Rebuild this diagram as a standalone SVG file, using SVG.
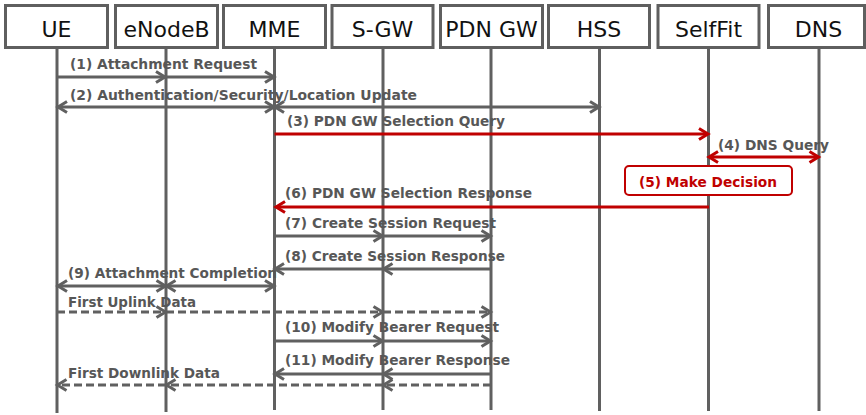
<svg xmlns="http://www.w3.org/2000/svg" width="866" height="415" viewBox="0 0 866 415">
<style>
.box{fill:#fff;stroke:#5f5f5f;stroke-width:3}
.life{stroke:#606060;stroke-width:3}
.hd{font-family:"DejaVu Sans",Verdana,sans-serif;font-size:22px;fill:#111;text-anchor:middle}
.msg{fill:none;stroke:#606060;stroke-width:3}
.dash{stroke-dasharray:8 4}
.red{fill:none;stroke:#c00000;stroke-width:3}
.lbl{font-family:"DejaVu Sans",Verdana,sans-serif;font-size:14px;font-weight:bold;fill:#575757}
.rlbl{font-family:"DejaVu Sans",Verdana,sans-serif;font-size:14.5px;font-weight:bold;fill:#c00000}
</style>
<defs>
<marker id="ag" markerUnits="userSpaceOnUse" markerWidth="16" markerHeight="16" viewBox="-2 -8 14 16" refX="9" refY="0" orient="auto-start-reverse">
<path d="M0,-5.5 L9,0 L0,5.5" fill="none" stroke="#606060" stroke-width="3"/>
</marker>
<marker id="ar" markerUnits="userSpaceOnUse" markerWidth="16" markerHeight="16" viewBox="-2 -8 14 16" refX="9" refY="0" orient="auto-start-reverse">
<path d="M0,-5.5 L9,0 L0,5.5" fill="none" stroke="#c00000" stroke-width="3"/>
</marker>
</defs>
<rect width="866" height="415" fill="#fff"/>
<g id="UE"><line class="life" x1="57" y1="48" x2="57" y2="413"/><rect class="box" x="5.5" y="5.5" width="102" height="42"/><text class="hd" x="56.5" y="37">UE</text></g>
<g id="eNodeB"><line class="life" x1="166" y1="48" x2="166" y2="412"/><rect class="box" x="115.5" y="5.5" width="102" height="42"/><text class="hd" x="166.5" y="37">eNodeB</text></g>
<g id="MME"><line class="life" x1="274.5" y1="48" x2="274.5" y2="410"/><rect class="box" x="223.5" y="5.5" width="102" height="42"/><text class="hd" x="274.5" y="37">MME</text></g>
<g id="S-GW"><line class="life" x1="383" y1="48" x2="383" y2="410"/><rect class="box" x="332" y="5.5" width="101" height="42"/><text class="hd" x="382.5" y="37">S-GW</text></g>
<g id="PDN-GW"><line class="life" x1="491" y1="48" x2="491" y2="410"/><rect class="box" x="440.5" y="5.5" width="102" height="42"/><text class="hd" x="491.5" y="37">PDN GW</text></g>
<g id="HSS"><line class="life" x1="599.5" y1="48" x2="599.5" y2="411"/><rect class="box" x="548.5" y="5.5" width="101" height="42"/><text class="hd" x="599" y="37">HSS</text></g>
<g id="SelfFit"><line class="life" x1="708.5" y1="48" x2="708.5" y2="411"/><rect class="box" x="658" y="5.5" width="101" height="42"/><text class="hd" x="708.5" y="37">SelfFit</text></g>
<g id="DNS"><line class="life" x1="819" y1="48" x2="819" y2="411"/><rect class="box" x="768.5" y="5.5" width="96" height="42"/><text class="hd" x="818.5" y="37">DNS</text></g>
<g id="connectors">
<line class="msg" x1="57" y1="77" x2="165" y2="77" marker-end="url(#ag)"/>
<line class="msg" x1="166" y1="77" x2="274" y2="77" marker-end="url(#ag)"/>
<line class="msg" x1="58" y1="107" x2="274" y2="107" marker-start="url(#ag)" marker-end="url(#ag)"/>
<line class="msg" x1="275" y1="107" x2="599" y2="107" marker-start="url(#ag)" marker-end="url(#ag)"/>
<line class="red" x1="274.5" y1="134" x2="708" y2="134" marker-end="url(#ar)"/>
<line class="red" x1="709" y1="157" x2="818.5" y2="157" marker-start="url(#ar)" marker-end="url(#ar)"/>
<line class="red" x1="709" y1="207" x2="276" y2="207" marker-end="url(#ar)"/>
<line class="msg" x1="274.5" y1="236" x2="382.5" y2="236" marker-end="url(#ag)"/>
<line class="msg" x1="383" y1="236" x2="490.5" y2="236" marker-end="url(#ag)"/>
<line class="msg" x1="491" y1="269" x2="383.5" y2="269" marker-end="url(#ag)"/>
<line class="msg" x1="383" y1="269" x2="275" y2="269" marker-end="url(#ag)"/>
<line class="msg" x1="58" y1="286" x2="165.5" y2="286" marker-start="url(#ag)" marker-end="url(#ag)"/>
<line class="msg" x1="166.5" y1="286" x2="274" y2="286" marker-start="url(#ag)" marker-end="url(#ag)"/>
<line class="msg dash" x1="57" y1="312" x2="165.5" y2="312" marker-end="url(#ag)"/>
<line class="msg dash" x1="166" y1="312" x2="382.5" y2="312" marker-end="url(#ag)"/>
<line class="msg dash" x1="383" y1="312" x2="490.5" y2="312" marker-end="url(#ag)"/>
<line class="msg" x1="274.5" y1="341" x2="382.5" y2="341" marker-end="url(#ag)"/>
<line class="msg" x1="383" y1="341" x2="490.5" y2="341" marker-end="url(#ag)"/>
<line class="msg" x1="491" y1="374" x2="383.5" y2="374" marker-end="url(#ag)"/>
<line class="msg" x1="383" y1="374" x2="275" y2="374" marker-end="url(#ag)"/>
<line class="msg dash" x1="491" y1="385" x2="383.5" y2="385" marker-end="url(#ag)"/>
<line class="msg dash" x1="383" y1="385" x2="166.5" y2="385" marker-end="url(#ag)"/>
<line class="msg dash" x1="166" y1="385" x2="57.5" y2="385" marker-end="url(#ag)"/>
</g>
<g id="labels">
<text class="lbl" x="70" y="68.5" textLength="187" lengthAdjust="spacingAndGlyphs">(1) Attachment Request</text>
<text class="lbl" x="70" y="100" textLength="347" lengthAdjust="spacingAndGlyphs">(2) Authentication/Security/Location Update</text>
<text class="lbl" x="287" y="126" textLength="218" lengthAdjust="spacingAndGlyphs">(3) PDN GW Selection Query</text>
<text class="lbl" x="718" y="150" textLength="111" lengthAdjust="spacingAndGlyphs">(4) DNS Query</text>
<text class="lbl" x="285" y="198" textLength="247" lengthAdjust="spacingAndGlyphs">(6) PDN GW Selection Response</text>
<text class="lbl" x="285" y="228" textLength="211" lengthAdjust="spacingAndGlyphs">(7) Create Session Request</text>
<text class="lbl" x="285" y="261" textLength="220" lengthAdjust="spacingAndGlyphs">(8) Create Session Response</text>
<text class="lbl" x="68" y="278" textLength="209" lengthAdjust="spacingAndGlyphs">(9) Attachment Completion</text>
<text class="lbl" x="68" y="307" textLength="128" lengthAdjust="spacingAndGlyphs">First Uplink Data</text>
<text class="lbl" x="285" y="332" textLength="214" lengthAdjust="spacingAndGlyphs">(10) Modify Bearer Request</text>
<text class="lbl" x="285" y="365" textLength="225" lengthAdjust="spacingAndGlyphs">(11) Modify Bearer Response</text>
<text class="lbl" x="68" y="378" textLength="152" lengthAdjust="spacingAndGlyphs">First Downlink Data</text>
</g>
<g id="decision">
<rect x="625" y="166" width="167" height="29" rx="4" fill="#fff" stroke="#c00000" stroke-width="2"/>
<text class="rlbl" x="639" y="186.5" textLength="138" lengthAdjust="spacingAndGlyphs">(5) Make Decision</text>
</g>
</svg>
